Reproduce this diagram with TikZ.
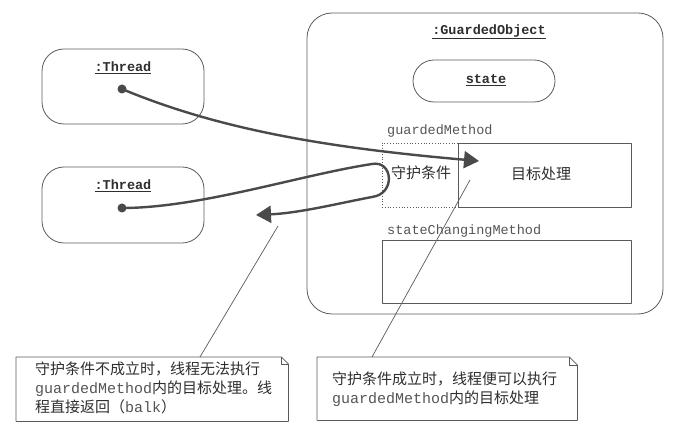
\documentclass[tikz,border=0pt]{standalone}
\usepackage{fontspec}
\setmainfont{Noto Sans CJK SC}
\setmonofont{Liberation Mono}
\usetikzlibrary{arrows.meta,calc}
\definecolor{linegray}{HTML}{5A5A5A}
\definecolor{arrowgray}{HTML}{4A4A4A}
\definecolor{txtdark}{HTML}{2E2E2E}
\definecolor{txtmono}{HTML}{555555}
\begin{document}
\begin{tikzpicture}[x=1pt,y=-1pt,line join=round,
  objbox/.style={draw=linegray,line width=0.8pt,rounded corners=22pt,inner sep=0pt},
  plainbox/.style={draw=linegray,line width=0.8pt,inner sep=0pt},
  objlabel/.style={font=\fontsize{13.5}{16}\selectfont\ttfamily\bfseries,text=txtdark,inner sep=0pt},
  monolabel/.style={font=\fontsize{13.5}{16}\selectfont\ttfamily,text=txtmono,inner sep=0pt,anchor=west},
  cjk/.style={font=\fontsize{15}{19}\selectfont,text=txtdark,inner sep=0pt},
  dot/.style={circle,fill=arrowgray,inner sep=0pt,minimum size=9pt},
  flow/.style={draw=arrowgray,line width=2.4pt,-{Triangle[length=15pt,width=17pt]}},
  leader/.style={draw=linegray,line width=0.7pt},
  notetext/.style={font=\fontsize{15}{19}\selectfont,text=txtdark,inner sep=0pt,align=left,anchor=north west}
]
\useasboundingbox (0,0) rectangle (680,435);

% Thread objects
\node[objbox,minimum width=162pt,minimum height=75pt] (t1) at (123,86.5) {};
\node[objlabel] (t1l) at (123,68) {\underline{:Thread}};
\node[dot] (d1) at (122,89) {};

\node[objbox,minimum width=162pt,minimum height=76pt] (t2) at (123,205) {};
\node[objlabel] (t2l) at (123,186) {\underline{:Thread}};
\node[dot] (d2) at (122,208) {};

% Guarded object
\node[objbox,rounded corners=25pt,minimum width=356pt,minimum height=301pt] (go) at (485,163.5) {};
\node[objlabel] (gol) at (489,32) {\underline{:GuardedObject}};
\node[objbox,rounded corners=21pt,minimum width=142pt,minimum height=42pt] (st) at (484,81) {};
\node[objlabel] (stl) at (486,80) {\underline{state}};

\node[monolabel] (gml) at (387,131) {guardedMethod};
\node[draw=linegray,line width=0.8pt,dotted,inner sep=0pt,minimum width=76pt,minimum height=64pt] (gc) at (420,175) {};
\node[cjk] (gct) at (421,173) {守护条件};
\node[plainbox,minimum width=173pt,minimum height=64pt] (tp) at (544.5,175) {};
\node[cjk] (tpt) at (541,174) {目标处理};

\node[monolabel] (scl) at (387,231) {stateChangingMethod};
\node[plainbox,minimum width=249pt,minimum height=63pt] (sc) at (506.5,271.5) {};

% Notes
\node[inner sep=0pt,minimum width=272pt,minimum height=64pt,anchor=north west] (n1) at (16,357) {};
\draw[leader] (n1.north west) -- ($(n1.north east)+(-7,0)$) -- ($(n1.north east)+(0,7)$) -- (n1.south east) -- (n1.south west) -- cycle;
\draw[leader] ($(n1.north east)+(-7,0)$) -- ($(n1.north east)+(-7,7)$) -- ($(n1.north east)+(0,7)$);
\node[notetext] (n1t) at (35,362) {守护条件不成立时，线程无法执行\\{\ttfamily\color{txtmono}guardedMethod}内的目标处理。线\\程直接返回（{\ttfamily\color{txtmono}balk}）};

\node[inner sep=0pt,minimum width=260pt,minimum height=63pt,anchor=north west] (n2) at (317,357) {};
\draw[leader] (n2.north west) -- ($(n2.north east)+(-8,0)$) -- ($(n2.north east)+(0,8)$) -- (n2.south east) -- (n2.south west) -- cycle;
\draw[leader] ($(n2.north east)+(-8,0)$) -- ($(n2.north east)+(-8,8)$) -- ($(n2.north east)+(0,8)$);
\node[notetext] (n2t) at (332,372) {守护条件成立时，线程便可以执行\\{\ttfamily\color{txtmono}guardedMethod}内的目标处理};

% leader lines
\coordinate (l1) at (278,226);
\coordinate (l2) at (470,180);
\coordinate (n1b) at (200,357);
\coordinate (n2b) at (372,357);
\draw[leader] (n1b) -- (l1);
\draw[leader] (n2b) -- (l2);

% flows
\coordinate (e1) at (479,161);
\coordinate (e2) at (256,215);
\draw[flow] (d1.center) .. controls (220,130) and (330,148) .. (e1);
\draw[flow] (d2.center) .. controls (200,208) and (300,175) .. (372,164)
  .. controls (393,160) and (396,194) .. (372,197)
  .. controls (340,203) and (300,213) .. (e2);
\end{tikzpicture}
\end{document}
